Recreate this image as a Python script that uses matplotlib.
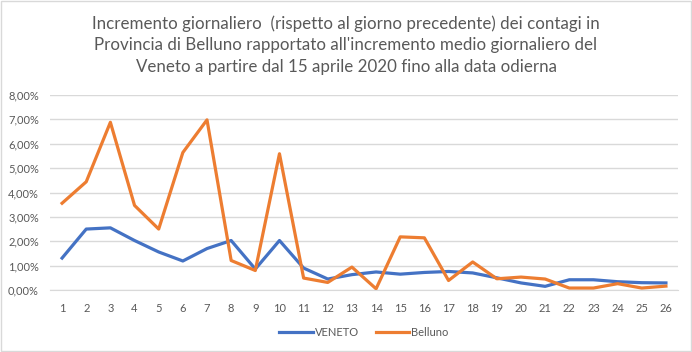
import matplotlib
matplotlib.use("Agg")
import matplotlib.pyplot as plt
from matplotlib.ticker import FuncFormatter
from matplotlib.patches import Rectangle

matplotlib.rcParams['font.family'] = ['Lato', 'DejaVu Sans']

days = list(range(1, 27))
veneto = [1.31, 2.50, 2.55, 2.03, 1.56, 1.19, 1.70, 2.03, 0.86, 2.03, 0.90, 0.45, 0.63,
          0.74, 0.65, 0.72, 0.76, 0.70, 0.50, 0.29, 0.15, 0.42, 0.42, 0.34, 0.30, 0.29]
belluno = [3.56, 4.44, 6.88, 3.47, 2.50, 5.64, 6.98, 1.21, 0.80, 5.59, 0.49, 0.31, 0.94,
           0.05, 2.18, 2.14, 0.39, 1.15, 0.46, 0.53, 0.45, 0.08, 0.08, 0.26, 0.08, 0.16]
yticks = [0, 1, 2, 3, 4, 5, 6, 7, 8]
title = ("Incremento giornaliero  (rispetto al giorno precedente) dei contagi in\n"
         "Provincia di Belluno rapportato all'incremento medio giornaliero del\n"
         "Veneto a partire dal 15 aprile 2020 fino alla data odierna")

fig = plt.figure(figsize=(6.92, 3.52), dpi=100)
fig.patches.append(Rectangle((0.001, 0.003), 0.997, 0.994, transform=fig.transFigure,
                             fill=False, edgecolor="#d9d9d9", linewidth=1))
ax = fig.add_axes([50/692, 1 - 290/352, 628/692, 195/352])

ax.plot(days, veneto, color="#4472C4", linewidth=2.3, label="VENETO", solid_joinstyle="round")
ax.plot(days, belluno, color="#ED7D31", linewidth=2.3, label="Belluno", solid_joinstyle="round")

ax.set_xlim(0.5, 26.5)
ax.set_ylim(0, 8)
ax.set_yticks(yticks)
ax.yaxis.set_major_formatter(FuncFormatter(lambda v, p: f"{v:.2f}%".replace(".", ",")))
ax.set_xticks(days)
ax.grid(axis="y", color="#d9d9d9", linewidth=1)
ax.set_axisbelow(True)
for s in ["top", "right", "left"]:
    ax.spines[s].set_visible(False)
ax.spines["bottom"].set_color("#d9d9d9")
ax.tick_params(length=0, labelsize=8, labelcolor="#595959")
ax.tick_params(axis="y", pad=8)
ax.tick_params(axis="x", pad=9)

fig.text(0.5, 1 - 45/352, title, ha="center", va="center", fontsize=12.2,
         color="#595959", linespacing=1.42)

ax.legend(loc="upper center", bbox_to_anchor=(0.5, -0.14), ncol=2, frameon=False,
          fontsize=8, labelcolor="#595959", handlelength=3, columnspacing=1.5,
          handletextpad=0.2)

fig.savefig("out.png", dpi=100)
